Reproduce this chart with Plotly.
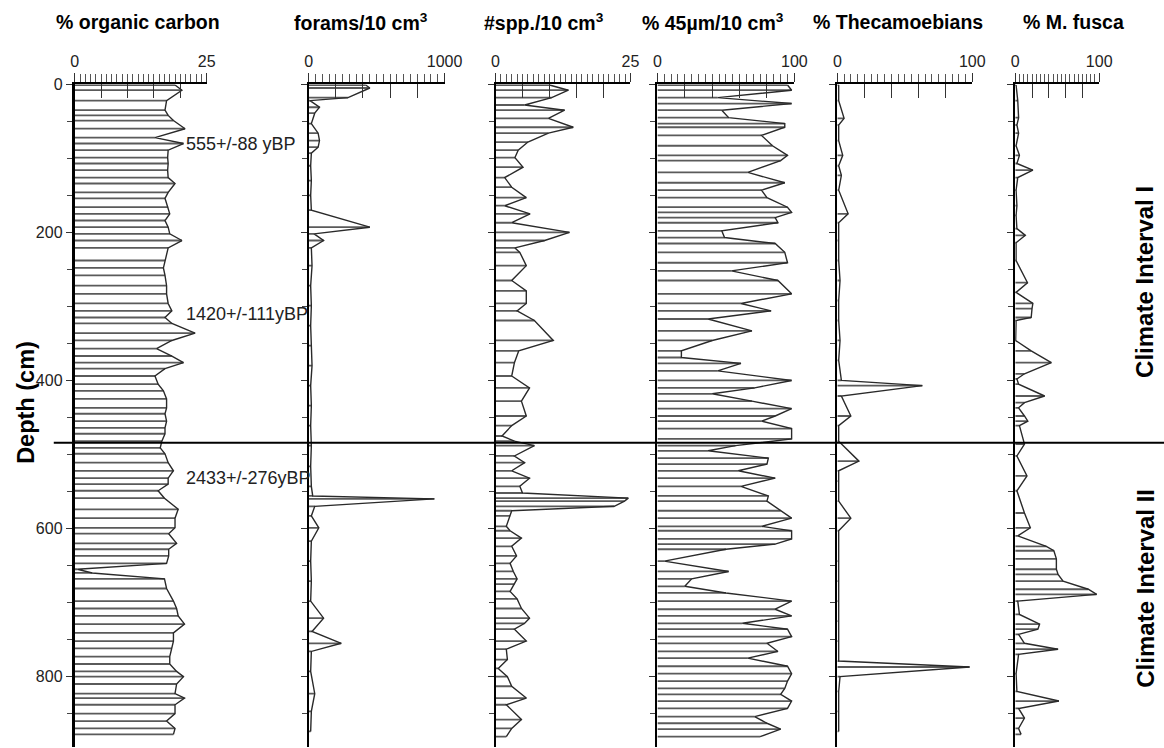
import plotly.graph_objects as go

# ---------------- data (depth in cm, values per proxy) ----------------
oc_depth = [1, 8, 22, 35, 42, 49, 60, 72, 80, 89,
            99, 107, 116, 126, 134, 146, 154, 166, 175, 184,
            193, 202, 211, 221, 238, 248, 258, 272, 283,
            296, 306, 315, 323, 336, 346, 357, 367, 376, 384,
            394, 405, 414, 425, 437, 445, 455, 464, 472, 482,
            491, 499, 511, 522, 532, 540, 549, 559, 574, 586,
            599, 607, 620, 628, 637, 647, 655, 660, 668, 681,
            698, 708, 718, 729, 741, 752, 762, 773, 783, 793,
            800, 810, 823, 829, 838, 850, 860, 870, 878]
oc_value = [19.0, 20.3, 17.4, 17.1, 17.7, 18.7, 20.9, 15.2, 20.6, 17.7,
            17.6, 17.7, 17.6, 17.7, 19.0, 17.7, 17.1, 17.7, 18.0, 17.1,
            17.7, 18.0, 20.3, 17.7, 17.1, 16.8, 17.1, 17.4, 17.4,
            17.7, 18.4, 17.1, 18.4, 22.8, 18.4, 15.5, 18.4, 20.6, 17.1,
            15.2, 15.8, 16.8, 17.4, 17.4, 17.1, 17.4, 17.1, 17.1, 16.5,
            16.2, 17.1, 17.7, 18.7, 17.7, 17.7, 15.8, 17.0, 19.6, 19.0,
            19.0, 17.8, 19.3, 17.8, 17.8, 17.4, 0.5, 3.3, 17.0, 17.4,
            18.7, 19.3, 19.6, 20.8, 18.7, 18.7, 18.4, 18.0, 18.0, 19.3,
            20.6, 19.3, 19.0, 20.8, 19.0, 19.0, 17.4, 19.0, 18.7]

fo_depth = [1, 5, 18, 22, 31, 39, 53, 66, 76, 85,
            93, 110, 130, 150, 170, 193, 202, 211, 221, 245,
            272, 299, 326, 353, 380, 407, 434, 461, 488, 516,
            543, 556, 560, 570, 583, 599, 617, 644, 671, 698,
            721, 739, 755, 766, 793, 823, 847, 874]
fo_value = [420, 450, 290, 10, 80, 45, 20, 70, 80, 70,
            20, 15, 20, 15, 20, 450, 40, 110, 20, 25,
            15, 20, 15, 20, 25, 15, 20, 15, 20, 15,
            20, 30, 925, 45, 20, 75, 20, 15, 20, 15,
            110, 25, 240, 20, 15, 45, 20, 15]

sp_depth = [1, 8, 18, 28, 35, 46, 58, 66, 78, 89,
            99, 112, 126, 139, 153, 164, 175, 187, 200, 211,
            221, 227, 245, 265, 279, 296, 306, 319, 346, 360,
            376, 394, 410, 428, 448, 461, 475, 482, 488, 502,
            511, 522, 532, 543, 552, 559, 563, 570, 576, 583,
            597, 603, 613, 624, 637, 647, 658, 668, 675, 685,
            695, 708, 721, 728, 736, 752, 763, 777, 789, 800,
            813, 829, 838, 858, 870, 881]
sp_value = [10, 13.5, 10.4, 5.4, 12.8, 9.8, 14.4, 9.8, 6, 4.2,
            3.6, 5.1, 1.7, 3, 5.7, 1.7, 6.4, 3, 13.7, 9.1,
            3.6, 4.5, 5.7, 3, 5.7, 5.7, 4, 7.2, 10.7, 4.3,
            3.5, 3, 6.3, 4.8, 5.7, 3, 1.2, 3.5, 7.2, 3.5,
            5.4, 3, 6.3, 4.5, 5, 24.6, 23.9, 22, 3, 2.7,
            2, 2.7, 4.8, 3, 3.9, 2.7, 3.3, 4, 3.5, 2.7,
            4, 4.8, 6.3, 5.4, 3.5, 5.7, 2, 2.2, 0.5, 2.2,
            3, 5.7, 2, 4.8, 3, 2]

sl_depth = [1, 8, 18, 26, 35, 45, 53, 58, 69, 83,
            96, 103, 119, 133, 143, 153, 166, 173, 180, 187,
            198, 207, 215, 227, 241, 252, 265, 283, 296, 306,
            317, 333, 346, 360, 369, 377, 387, 400, 410, 418,
            428, 438, 448, 455, 465, 479, 488, 495, 505, 513,
            522, 532, 543, 556, 563, 576, 586, 597, 603, 614,
            621, 628, 644, 658, 668, 678, 687, 698, 709, 718,
            728, 736, 746, 755, 766, 775, 786, 796, 806, 816,
            824, 833, 843, 854, 863, 871, 881]
sl_value = [95, 98, 44, 98, 47, 52, 93, 93, 76, 84,
            95, 90, 66, 93, 76, 80, 95, 98, 86, 88,
            47, 49, 86, 93, 95, 54, 88, 98, 61, 83,
            37, 69, 40, 17.5, 17.5, 61, 44, 98, 71, 40,
            69, 98, 86, 76, 98, 98, 57, 37, 81, 80,
            59, 86, 61, 81, 80, 90, 98, 76, 98, 98,
            86, 50, 5, 52, 25, 20, 50, 98, 86, 98,
            62, 95, 98, 80, 88, 66, 95, 98, 95, 93,
            90, 98, 95, 71, 80, 90, 75]

th_depth = [1, 22, 46, 55, 76, 96, 110, 123, 143, 175,
            187, 211, 238, 265, 292, 319, 346, 373, 400, 407,
            421, 448, 461, 482, 509, 522, 536, 563, 586, 603,
            644, 671, 698, 725, 752, 779, 787, 800, 820, 847,
            874]
th_value = [1, 1, 5, 1, 1, 4, 1, 3, 1, 8,
            1, 1, 1, 2, 1, 1, 2, 1, 3, 63,
            3, 10, 1, 1, 16, 1, 1, 1, 10, 1,
            1, 1, 1, 1, 1, 1, 98, 2, 1, 1,
            1]

mf_depth = [1, 22, 45, 55, 66, 83, 96, 107, 116, 126,
            143, 164, 177, 195, 204, 214, 238, 268, 281, 296,
            303, 315, 319, 346, 360, 376, 391, 398, 405, 421,
            430, 437, 448, 455, 461, 486, 502, 529, 549, 579,
            599, 610, 624, 630, 641, 655, 662, 671, 682, 689,
            698, 716, 729, 736, 743, 755, 763, 770, 796, 820,
            833, 843, 856, 870, 878]
mf_value = [1, 3, 4, 2, 4, 1, 5, 2, 21, 3,
            1, 2, 1, 2, 12, 1, 1, 14.6, 1, 21,
            20, 19, 1, 0.5, 19, 43, 11, 2, 4, 35,
            11, 4, 11, 15, 5, 11, 2, 14, 2, 11,
            18, 3, 37, 46, 49, 49, 51, 57, 87, 97,
            3, 5, 29, 27, 4, 11, 51, 4, 1, 2,
            52, 4, 11, 4, 7]

titles = ["% organic carbon", "forams/10 cm<sup>3</sup>", "#spp./10 cm<sup>3</sup>",
          "% 45\u00b5m/10 cm<sup>3</sup>", "% Thecamoebians", "% M. fusca"]
x_max = [25, 1000, 25, 100, 100, 100]
x_tick_labels = [["0", "25"], ["0", "1000"], ["0", "25"], ["0", "100"], ["0", "100"], ["0", "100"]]

depth_tick_vals = [0, 200, 400, 600, 800]
depth_tick_text = ["0", "200", "400", "600", "800"]

boundary_depth = 484
date_labels = ["555+/-88 yBP", "1420+/-111yBP", "2433+/-276yBP"]
date_depths = [80, 310, 532]
interval_labels = ["Climate Interval I", "Climate Interval II"]

# ---------------- layout / style settings ----------------
# target positions are given in screenshot pixels; the capture shrinks the page
# slightly and shifts it, so convert screenshot px -> figure px.
SX, BX = 0.982, 2.2
SY, BY = 0.987, 7.9
FW, FH = 1186, 760


def fx(px):
    return (px - BX) / SX / FW


def fy(py):
    return 1 - (py - BY) / SY / FH


panel_px = [(73, 205), (307, 443), (494, 629), (656, 793), (836, 971), (1014, 1098)]
title_cx = [136, 359, 543, 712, 897, 1072]
major_step = [5, 200, 5, 20, 20, 20]
minor_step = [1, 50, 1, 5, 5, 5]
Y_TOP, Y_BOT = 84, 745
DEPTH_MAX = 895
NP = 6

series = [(oc_depth, oc_value), (fo_depth, fo_value), (sp_depth, sp_value),
          (sl_depth, sl_value), (th_depth, th_value), (mf_depth, mf_value)]

fig = go.Figure()
layout = {}
TXT_FONT = "Liberation Sans, Arial, sans-serif"

for i, (depth, value) in enumerate(series):
    n = i + 1
    xs, ys = [], []
    for d, v in zip(depth, value):
        xs += [0, v, None]
        ys += [d, d, None]
    xref = "x" if n == 1 else f"x{n}"
    yref = "y" if n == 1 else f"y{n}"
    fig.add_trace(go.Scatter(x=xs, y=ys, mode="lines", xaxis=xref, yaxis=yref,
                             line=dict(color="#5a5a5a", width=1.8), hoverinfo="skip",
                             showlegend=False))
    fig.add_trace(go.Scatter(x=value, y=depth, mode="lines", xaxis=xref, yaxis=yref,
                             line=dict(color="#2a2a2a", width=1.4), hoverinfo="skip",
                             showlegend=False))
    # empty trace that carries the overlay axis holding the long major ticks
    fig.add_trace(go.Scatter(x=[None], y=[None], xaxis=f"x{n + NP}", yaxis=yref,
                             mode="lines", hoverinfo="skip", showlegend=False))

    x0, x1 = panel_px[i]
    majors = list(range(0, x_max[i] + 1, major_step[i]))
    layout["xaxis" if n == 1 else f"xaxis{n}"] = dict(
        domain=[fx(x0), fx(x1)], range=[0, x_max[i]], side="top",
        anchor=yref, showline=True, linecolor="black", linewidth=2,
        ticks="outside", ticklen=9, tickwidth=1, tickcolor="#333",
        tickvals=[0, x_max[i]], ticktext=x_tick_labels[i], ticklabelstandoff=0,
        minor=dict(ticks="outside", ticklen=8, tickwidth=1, tickcolor="#555",
                   dtick=minor_step[i], tick0=0, showgrid=False),
        tickfont=dict(family=TXT_FONT, size=16, color="#222"),
        showgrid=False, zeroline=False, fixedrange=True)
    layout[f"xaxis{n + NP}"] = dict(
        overlaying=xref, range=[0, x_max[i]], side="top", anchor=yref,
        showline=False, ticks="inside", ticklen=14, tickwidth=1, tickcolor="#333",
        tickvals=majors, showticklabels=False,
        showgrid=False, zeroline=False, fixedrange=True)

    layout["yaxis" if n == 1 else f"yaxis{n}"] = dict(
        domain=[fy(Y_BOT), fy(Y_TOP)], range=[DEPTH_MAX, 0],
        anchor=xref, showline=True, linecolor="black", linewidth=3 if n == 1 else 2,
        ticks="outside", ticklen=6, tickwidth=1, tickcolor="#333",
        tickvals=depth_tick_vals, ticktext=depth_tick_text,
        minor=dict(ticks="outside", ticklen=5, tickwidth=1, tickcolor="#444",
                   dtick=50, tick0=0, showgrid=False),
        showticklabels=(n == 1),
        tickfont=dict(family=TXT_FONT, size=16, color="#222"),
        showgrid=False, zeroline=False, fixedrange=True)

annotations = []
for i, t in enumerate(titles):
    annotations.append(dict(text=f"<b>{t}</b>", x=fx(title_cx[i]), y=fy(22),
                            xref="paper", yref="paper", showarrow=False,
                            xanchor="center", yanchor="middle",
                            font=dict(family=TXT_FONT, size=19.5, color="black")))
for lab, d in zip(date_labels, date_depths):
    annotations.append(dict(text=lab, x=fx(182), y=d, xref="paper", yref="y",
                            showarrow=False, xanchor="left", yanchor="middle",
                            font=dict(family=TXT_FONT, size=18, color="#222")))
annotations.append(dict(text="<b>Depth (cm)</b>", x=fx(24), y=fy(401),
                        xref="paper", yref="paper", showarrow=False, textangle=-90,
                        xanchor="center", yanchor="middle",
                        font=dict(family=TXT_FONT, size=23.5, color="black")))
for lab, cy in zip(interval_labels, [281, 587]):
    annotations.append(dict(text=f"<b>{lab}</b>", x=fx(1144), y=fy(cy),
                            xref="paper", yref="paper", showarrow=False, textangle=-90,
                            xanchor="center", yanchor="middle",
                            font=dict(family=TXT_FONT, size=24, color="black")))

shapes = [dict(type="line", xref="paper", yref="y", x0=fx(52), x1=1.0,
               y0=boundary_depth, y1=boundary_depth, layer="above",
               line=dict(color="black", width=2))]

fig.update_layout(width=FW, height=FH, margin=dict(l=0, r=0, t=0, b=0),
                  paper_bgcolor="white", plot_bgcolor="white",
                  showlegend=False, hovermode=False,
                  annotations=annotations, shapes=shapes, **layout)

fig.write_html("out.html", config={"displayModeBar": False},
               post_script="document.body.style.margin='0px';"
                           "document.body.style.overflow='hidden';")
